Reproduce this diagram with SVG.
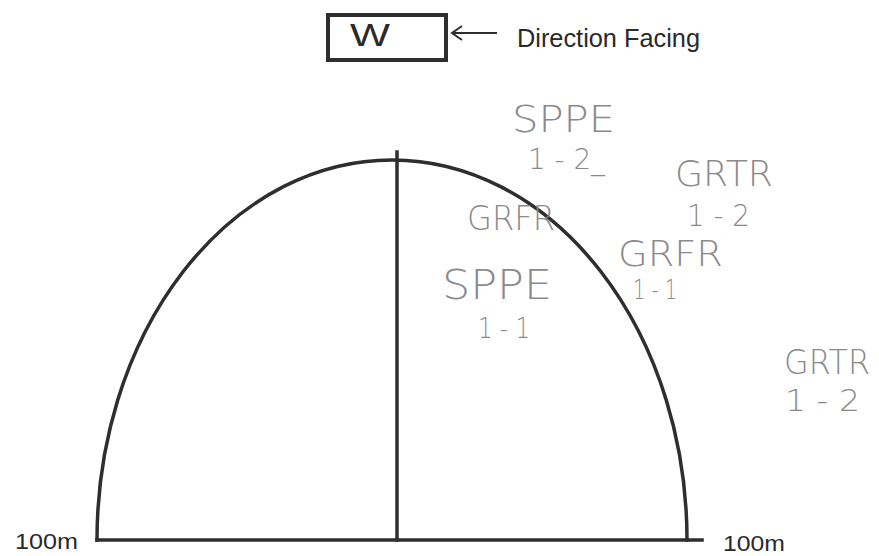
<svg xmlns="http://www.w3.org/2000/svg" width="879" height="556" viewBox="0 0 879 556">
  <style>
    .ink { fill: none; stroke: #2e2e2e; stroke-width: 3.5; stroke-linecap: square; }
    .print { font-family: "Liberation Sans", Arial, sans-serif; fill: #2a2a2a; }
    .hand { font-family: "DejaVu Sans", "Liberation Sans", sans-serif; font-weight: 200; fill: #8a8a8a; }
  </style>
  <defs>
    <marker id="open-arrow" markerWidth="16" markerHeight="16" refX="13" refY="8" orient="auto" markerUnits="userSpaceOnUse">
      <path d="M3,1 L13,8 L3,15" fill="none" stroke="#2e2e2e" stroke-width="2"/>
    </marker>
  </defs>
  <rect width="879" height="556" fill="#ffffff"/>

  <g id="direction-box">
    <rect x="328" y="15" width="118" height="45" fill="none" stroke="#2e2e2e" stroke-width="4"/>
    <text class="print" x="350" y="46" font-size="31" textLength="40" lengthAdjust="spacingAndGlyphs">W</text>
  </g>
  <g id="direction-label">
    <text class="print" x="517" y="47" font-size="26" textLength="183" lengthAdjust="spacingAndGlyphs">Direction Facing</text>
  </g>

  <g id="connectors">
    <line x1="497" y1="33" x2="452" y2="33" stroke="#2e2e2e" stroke-width="2" marker-end="url(#open-arrow)"/>
  </g>

  <g id="field">
    <path class="ink" d="M97,540 A295,380 0 0 1 687,540"/>
    <line class="ink" x1="397" y1="152" x2="397" y2="540"/>
    <line class="ink" x1="97" y1="540" x2="702" y2="540"/>
    <text class="print" x="15" y="549" font-size="22" textLength="63" lengthAdjust="spacingAndGlyphs">100m</text>
    <text class="print" x="723" y="551" font-size="22" textLength="62" lengthAdjust="spacingAndGlyphs">100m</text>
  </g>

  <g id="notes">
    <text class="hand" x="512" y="132" font-size="38" textLength="103" lengthAdjust="spacingAndGlyphs">SPPE</text>
    <text class="hand" x="528" y="169" font-size="28" textLength="77" lengthAdjust="spacingAndGlyphs">1 - 2_</text>
    <text class="hand" x="675" y="186" font-size="36" textLength="98" lengthAdjust="spacingAndGlyphs">GRTR</text>
    <text class="hand" x="687" y="226" font-size="30" textLength="63" lengthAdjust="spacingAndGlyphs">1 - 2</text>
    <text class="hand" x="467" y="230" font-size="34" textLength="88" lengthAdjust="spacingAndGlyphs">GRFR</text>
    <text class="hand" x="618" y="266" font-size="36" textLength="105" lengthAdjust="spacingAndGlyphs">GRFR</text>
    <text class="hand" x="633" y="299" font-size="26" textLength="44" lengthAdjust="spacingAndGlyphs">1 - 1</text>
    <text class="hand" x="442" y="299" font-size="40" textLength="110" lengthAdjust="spacingAndGlyphs">SPPE</text>
    <text class="hand" x="478" y="338" font-size="28" textLength="52" lengthAdjust="spacingAndGlyphs">1 - 1</text>
    <text class="hand" x="784" y="374" font-size="34" textLength="86" lengthAdjust="spacingAndGlyphs">GRTR</text>
    <text class="hand" x="785" y="411" font-size="30" textLength="75" lengthAdjust="spacingAndGlyphs">1 - 2</text>
  </g>
</svg>
